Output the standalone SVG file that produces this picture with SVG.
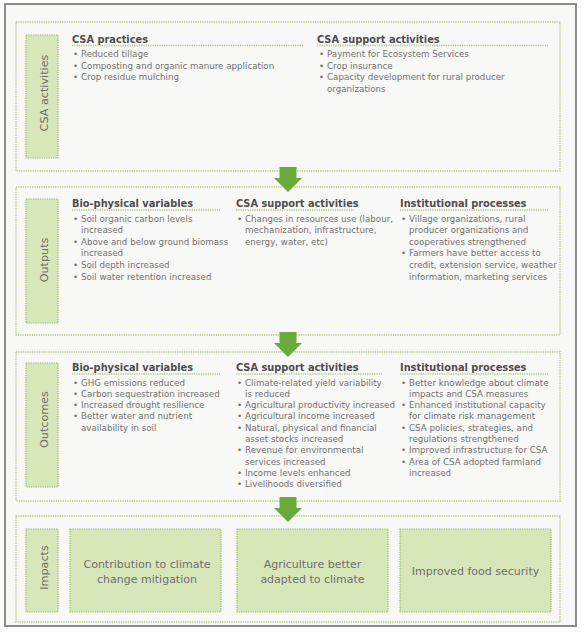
<svg xmlns="http://www.w3.org/2000/svg" width="585" height="635" viewBox="0 0 585 635">
<defs>
<style>
.frame{fill:#f8f8f6;stroke:#8c8c8c;stroke-width:2}
.sec{fill:none;stroke:#b4cb86;stroke-width:1.3;stroke-dasharray:1.3 1}
.lbl{fill:#d7e7ba;stroke:#9dbb6c;stroke-width:1.2;stroke-dasharray:1.3 1}
.ul{stroke:#b4cb86;stroke-width:1.6;stroke-dasharray:1.3 1}
.h{font-family:"DejaVu Sans",Verdana,sans-serif;font-weight:bold;font-size:9.8px;fill:#4d4d4d}
.t{font-family:"DejaVu Sans",Verdana,sans-serif;font-size:8.7px;fill:#727272}
.v{font-family:"DejaVu Sans",Verdana,sans-serif;font-size:11.2px;fill:#6e6e6e;text-anchor:middle}
.b{font-family:"DejaVu Sans",Verdana,sans-serif;font-size:11px;fill:#6e6e6e;text-anchor:middle}
.arr{fill:#6aac3c}
</style>
</defs>
<rect x="0" y="0" width="585" height="635" fill="#ffffff"/>
<rect class="frame" x="5" y="4" width="571" height="622"/>

<g id="csa-activities">
<rect class="sec" x="16" y="22" width="544" height="149"/>
<rect class="lbl" x="26" y="35" width="32" height="123"/>
<text class="v" transform="translate(47.5,93) rotate(-90)">CSA activities</text>
<text class="h" x="72" y="43">CSA practices</text>
<line class="ul" x1="72" y1="45.5" x2="303" y2="45.5"/>
<text class="t"><tspan x="73" y="57">•</tspan><tspan x="81" y="57">Reduced tillage</tspan><tspan x="73" y="68.7">•</tspan><tspan x="81" y="68.7">Composting and organic manure application</tspan><tspan x="73" y="80.4">•</tspan><tspan x="81" y="80.4">Crop residue mulching</tspan></text>
<text class="h" x="317" y="43">CSA support activities</text>
<line class="ul" x1="317" y1="45.5" x2="548" y2="45.5"/>
<text class="t"><tspan x="319" y="57">•</tspan><tspan x="327" y="57">Payment for Ecosystem Services</tspan><tspan x="319" y="68.7">•</tspan><tspan x="327" y="68.7">Crop insurance</tspan><tspan x="319" y="80.4">•</tspan><tspan x="327" y="80.4">Capacity development for rural producer</tspan><tspan x="327" y="92.1">organizations</tspan></text>
</g>

<g id="outputs">
<rect class="sec" x="16" y="187" width="544" height="148"/>
<rect class="lbl" x="26" y="199" width="32" height="124"/>
<text class="v" transform="translate(47.5,260) rotate(-90)">Outputs</text>
<text class="h" x="72" y="207">Bio-physical variables</text>
<line class="ul" x1="72" y1="210" x2="220" y2="210"/>
<text class="t"><tspan x="73" y="221.6">•</tspan><tspan x="81" y="221.6">Soil organic carbon levels</tspan><tspan x="81" y="233.2">increased</tspan><tspan x="73" y="244.8">•</tspan><tspan x="81" y="244.8">Above and below ground biomass</tspan><tspan x="81" y="256.4">increased</tspan><tspan x="73" y="268">•</tspan><tspan x="81" y="268">Soil depth increased</tspan><tspan x="73" y="279.6">•</tspan><tspan x="81" y="279.6">Soil water retention increased</tspan></text>
<text class="h" x="236" y="207">CSA support activities</text>
<line class="ul" x1="236" y1="210" x2="354" y2="210"/>
<text class="t"><tspan x="237" y="221.6">•</tspan><tspan x="245" y="221.6">Changes in resources use (labour,</tspan><tspan x="245" y="233.2">mechanization, infrastructure,</tspan><tspan x="245" y="244.8">energy, water, etc)</tspan></text>
<text class="h" x="400" y="207">Institutional processes</text>
<line class="ul" x1="400" y1="210" x2="548" y2="210"/>
<text class="t"><tspan x="401" y="221.6">•</tspan><tspan x="409" y="221.6">Village organizations, rural</tspan><tspan x="409" y="233.2">producer organizations and</tspan><tspan x="409" y="244.8">cooperatives strengthened</tspan><tspan x="401" y="256.4">•</tspan><tspan x="409" y="256.4">Farmers have better access to</tspan><tspan x="409" y="268">credit, extension service, weather</tspan><tspan x="409" y="279.6">information, marketing services</tspan></text>
</g>

<g id="outcomes">
<rect class="sec" x="16" y="352" width="544" height="149"/>
<rect class="lbl" x="26" y="363" width="32" height="124"/>
<text class="v" transform="translate(47.5,419.5) rotate(-90)">Outcomes</text>
<text class="h" x="72" y="371">Bio-physical variables</text>
<line class="ul" x1="72" y1="374" x2="220" y2="374"/>
<text class="t"><tspan x="73" y="385.5">•</tspan><tspan x="81" y="385.5">GHG emissions reduced</tspan><tspan x="73" y="396.8">•</tspan><tspan x="81" y="396.8">Carbon sequestration increased</tspan><tspan x="73" y="408.1">•</tspan><tspan x="81" y="408.1">Increased drought resilience</tspan><tspan x="73" y="419.4">•</tspan><tspan x="81" y="419.4">Better water and nutrient</tspan><tspan x="81" y="430.7">availability in soil</tspan></text>
<text class="h" x="236" y="371">CSA support activities</text>
<line class="ul" x1="236" y1="374" x2="383" y2="374"/>
<text class="t"><tspan x="237" y="385.5">•</tspan><tspan x="245" y="385.5">Climate-related yield variability</tspan><tspan x="245" y="396.8">is reduced</tspan><tspan x="237" y="408.1">•</tspan><tspan x="245" y="408.1">Agricultural productivity increased</tspan><tspan x="237" y="419.4">•</tspan><tspan x="245" y="419.4">Agricultural income increased</tspan><tspan x="237" y="430.7">•</tspan><tspan x="245" y="430.7">Natural, physical and financial</tspan><tspan x="245" y="442">asset stocks increased</tspan><tspan x="237" y="453.3">•</tspan><tspan x="245" y="453.3">Revenue for environmental</tspan><tspan x="245" y="464.6">services increased</tspan><tspan x="237" y="475.9">•</tspan><tspan x="245" y="475.9">Income levels enhanced</tspan><tspan x="237" y="487.2">•</tspan><tspan x="245" y="487.2">Livelihoods diversified</tspan></text>
<text class="h" x="400" y="371">Institutional processes</text>
<line class="ul" x1="400" y1="374" x2="548" y2="374"/>
<text class="t"><tspan x="401" y="385.5">•</tspan><tspan x="409" y="385.5">Better knowledge about climate</tspan><tspan x="409" y="396.8">impacts and CSA measures</tspan><tspan x="401" y="408.1">•</tspan><tspan x="409" y="408.1">Enhanced institutional capacity</tspan><tspan x="409" y="419.4">for climate risk management</tspan><tspan x="401" y="430.7">•</tspan><tspan x="409" y="430.7">CSA policies, strategies, and</tspan><tspan x="409" y="442">regulations strengthened</tspan><tspan x="401" y="453.3">•</tspan><tspan x="409" y="453.3">Improved infrastructure for CSA</tspan><tspan x="401" y="464.6">•</tspan><tspan x="409" y="464.6">Area of CSA adopted farmland</tspan><tspan x="409" y="475.9">increased</tspan></text>
</g>

<g id="impacts">
<rect class="sec" x="16" y="516" width="544" height="106"/>
<rect class="lbl" x="26" y="529" width="32" height="83"/>
<text class="v" transform="translate(47.5,567.5) rotate(-90)">Impacts</text>
</g>
<g id="impact-mitigation">
<rect class="lbl" x="70" y="529" width="151" height="83"/>
<text class="b" x="147" y="568">Contribution to climate</text>
<text class="b" x="147" y="582.5">change mitigation</text>
</g>
<g id="impact-adaptation">
<rect class="lbl" x="237" y="529" width="151" height="83"/>
<text class="b" x="312.5" y="568">Agriculture better</text>
<text class="b" x="312.5" y="582.5">adapted to climate</text>
</g>
<g id="impact-food-security">
<rect class="lbl" x="400" y="529" width="151" height="83"/>
<text class="b" x="475.5" y="575">Improved food security</text>
</g>

<g id="connectors">
<polygon class="arr" points="279.5,167 296.5,167 296.5,178 302,178 288,192 274,178 279.5,178"/>
<polygon class="arr" points="279.5,332 296.5,332 296.5,343 302,343 288,357 274,343 279.5,343"/>
<polygon class="arr" points="279.5,497 296.5,497 296.5,508 302,508 288,522 274,508 279.5,508"/>
</g>
</svg>
